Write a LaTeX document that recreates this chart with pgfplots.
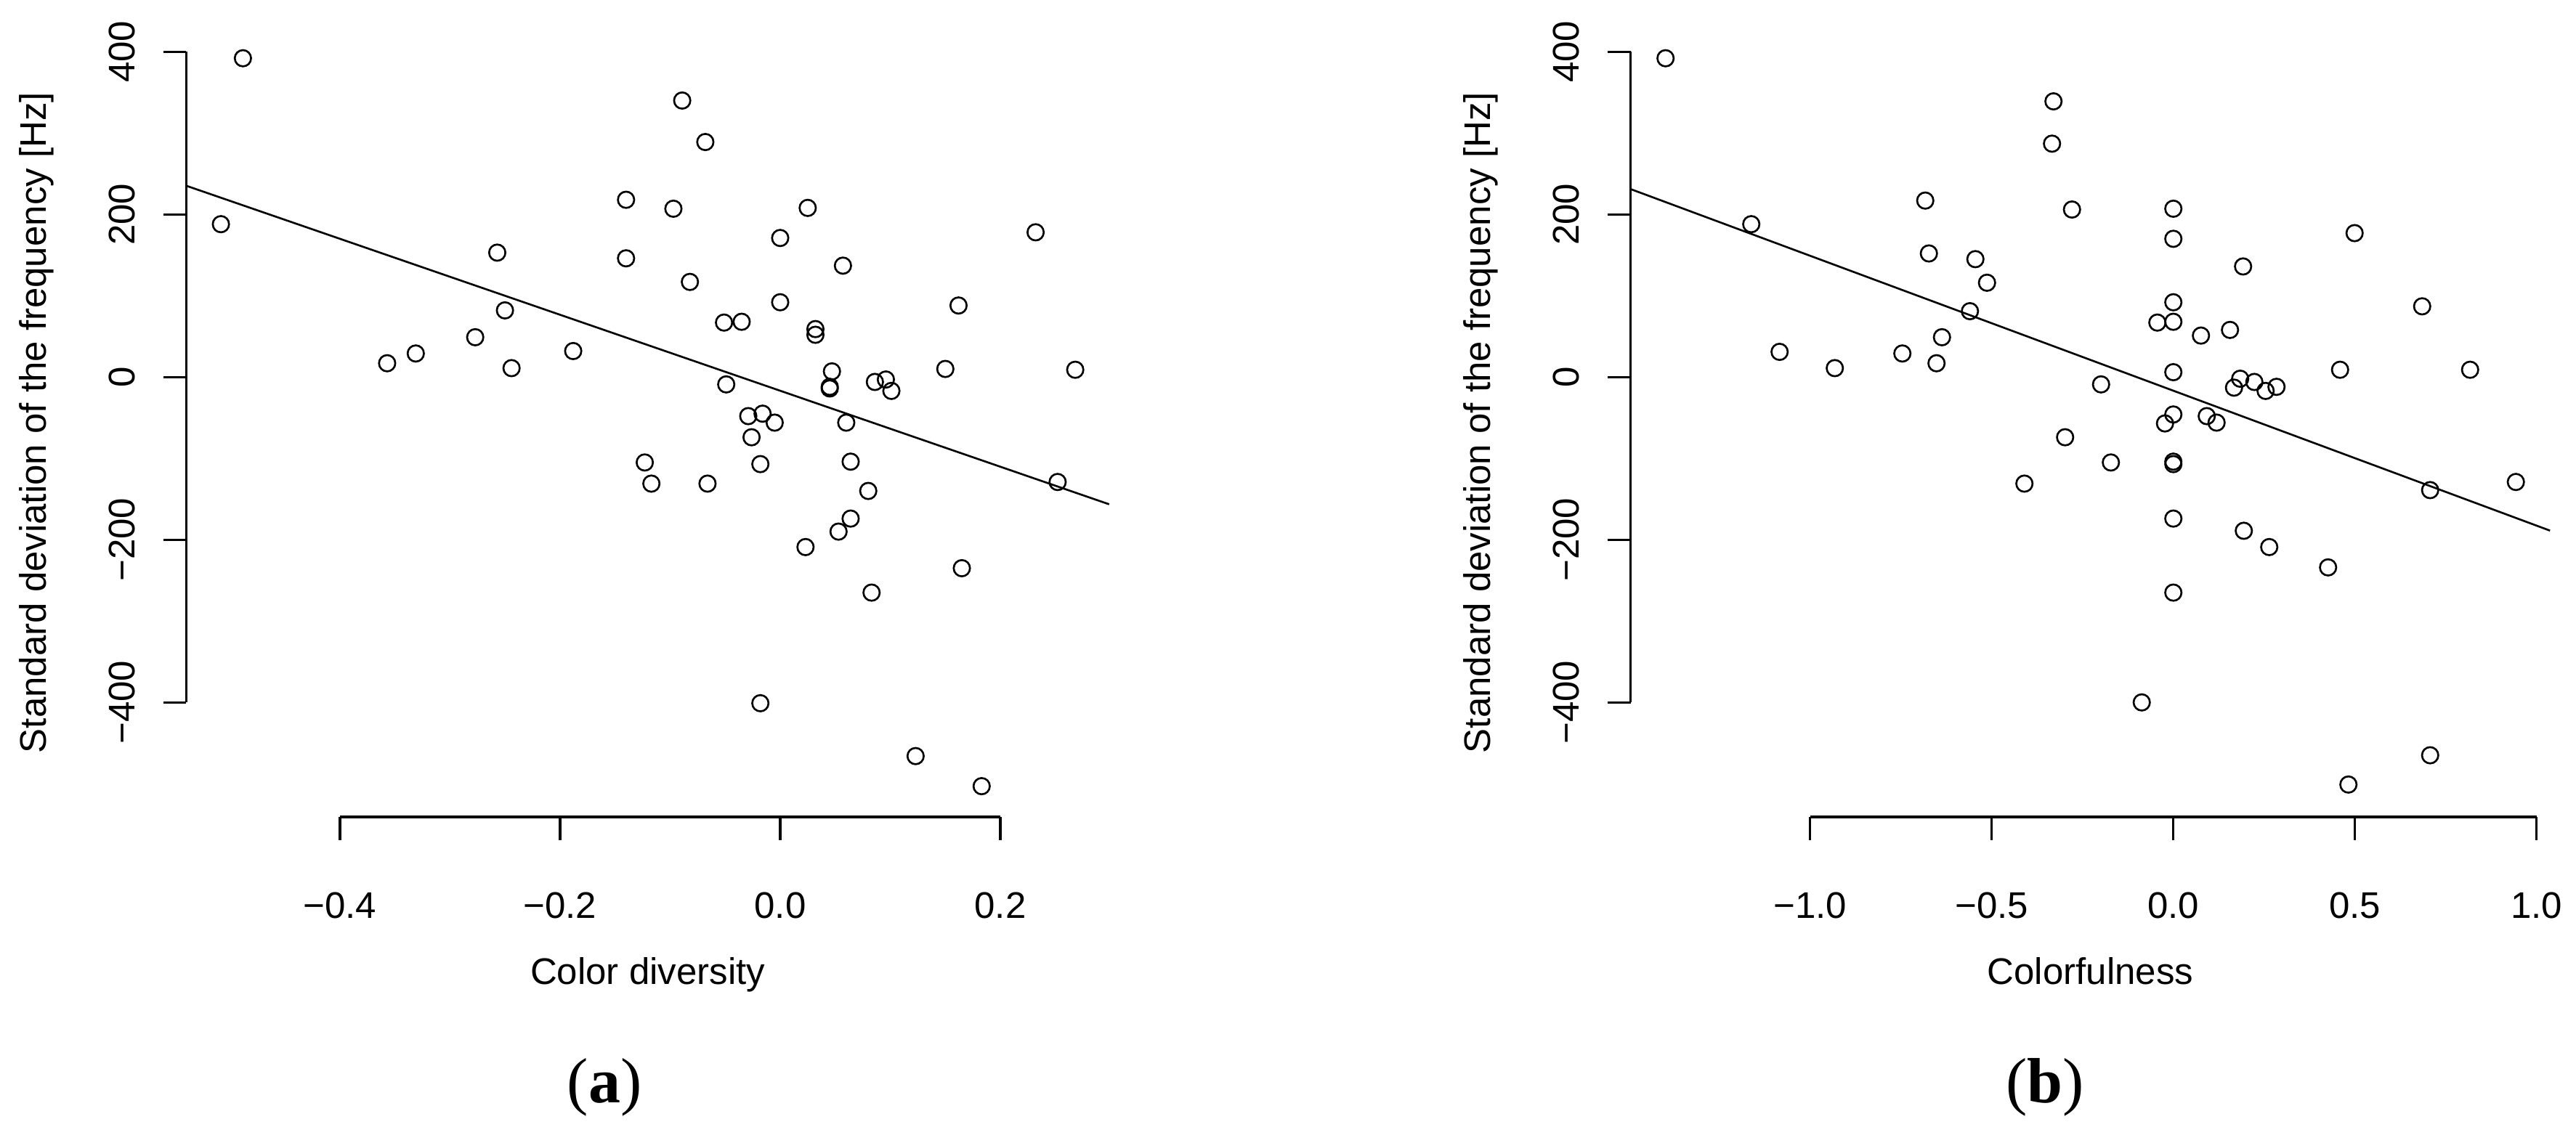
\documentclass[border=0pt]{standalone}
\usepackage{fontspec}
\setmainfont{Liberation Sans}
\newfontfamily\capfont{Liberation Serif}
\usepackage{pgfplots}
\pgfplotsset{compat=1.18}
\usetikzlibrary{calc}

\newcommand{\lab}{\fontsize{10.2}{12}\selectfont}

\pgfplotsset{
  rplot/.style={
    scale only axis, height=217.28pt,
    ymin=-541, ymax=429,
    axis x line*=bottom, axis y line*=left,
    axis line style={draw=none},
    tick align=outside, major tick length=6.3pt,
    every tick/.style={black, line width=0.7pt},
    ytick={-400,-200,0,200,400},
    yticklabels={−400,−200,0,200,400},
    tick label style={font=\lab},
    label style={font=\lab},
    xticklabel style={anchor=base}, xticklabel shift=21.6pt,
    yticklabel style={rotate=90, anchor=base}, yticklabel shift=8pt,
    xlabel style={at={($(axis description cs:0.5,0)+(0,-46pt)$)}, anchor=base},
    ylabel style={at={($(axis description cs:0,0.5)+(-38.7pt,0)$)}, rotate=0, anchor=base},
    ylabel={Standard deviation of the frequency [Hz]},
    clip=false,
  },
  pts/.style={only marks, mark=o, mark size=2.24pt, mark options={line width=0.53pt, black}},
  fit/.style={black, line width=0.53pt, no marks},
}

\begin{document}
\begin{tikzpicture}
\useasboundingbox (0,0) rectangle (709.2pt,312.6pt);

% (a) colour diversity
\begin{axis}[rplot, at={(51.3pt,87.56pt)}, anchor=south west,
  width=254.06pt, xmin=-0.5394, xmax=0.2988,
  xtick={-0.4,-0.2,0,0.2}, xticklabels={−0.4,−0.2,0.0,0.2},
  xlabel={Color diversity}]
\addplot[pts] coordinates {
  (-0.488,392) (-0.508,188) (-0.257,153) (-0.140,218) (-0.140,146)
  (-0.250,82) (-0.277,49) (-0.331,29) (-0.357,17) (-0.244,11)
  (-0.188,32) (-0.089,340) (-0.068,289) (-0.097,207) (0.025,208)
  (0.000,171) (0.057,137) (0.232,178) (-0.082,117) (0.000,92)
  (0.162,88) (-0.051,67) (-0.035,68) (0.032,59) (0.032,52)
  (0.150,10) (0.268,9) (-0.049,-9) (0.047,7) (0.045,-12)
  (0.045,-14) (0.086,-6) (0.096,-3) (0.101,-17) (-0.029,-48)
  (-0.016,-45) (-0.005,-56) (0.060,-56) (-0.026,-74) (-0.123,-105)
  (-0.117,-131) (-0.066,-131) (-0.018,-107) (0.064,-104) (0.080,-140)
  (0.252,-129) (0.064,-174) (0.053,-190) (0.023,-209) (0.165,-235)
  (0.083,-265) (-0.018,-401) (0.123,-466) (0.183,-503)
};
\addplot[fit] coordinates {(-0.5394,235.2) (0.2988,-156.4)};
\draw[line width=0.7pt] (axis cs:-0.5394,-400) -- (axis cs:-0.5394,400);
\draw[line width=0.7pt] (axis cs:-0.4,-541) -- (axis cs:0.2,-541);
\end{axis}

% (b) colourfulness
\begin{axis}[rplot, at={(448.94pt,87.56pt)}, anchor=south west,
  width=253.1pt, xmin=-1.494, xmax=1.037,
  xtick={-1,-0.5,0,0.5,1}, xticklabels={−1.0,−0.5,0.0,0.5,1.0},
  xlabel={Colorfulness}]
\addplot[pts] coordinates {
  (-1.398,392) (-1.162,188) (-0.683,217) (-0.673,152) (-0.545,145)
  (-0.513,116) (-0.560,81) (-0.637,49) (-1.084,31) (-0.746,29)
  (-0.932,11) (-0.652,17) (-0.330,339) (-0.334,287) (-0.279,206)
  (0.000,207) (0.000,170) (0.499,177) (0.192,136) (0.000,92)
  (0.685,87) (-0.044,67) (0.000,68) (0.076,51) (0.156,58)
  (-0.199,-9) (0.000,6) (0.459,9) (0.817,9) (0.184,-2)
  (0.167,-13) (0.223,-6) (0.254,-17) (0.284,-12) (0.000,-46)
  (-0.023,-57) (0.092,-48) (0.119,-56) (-0.298,-74) (-0.172,-105)
  (0.000,-104) (0.000,-107) (0.707,-139) (0.943,-129) (0.000,-174)
  (0.194,-189) (0.264,-209) (0.426,-234) (0.000,-265) (-0.087,-400)
  (0.707,-465) (0.482,-501) (-0.410,-131)
};
\addplot[fit] coordinates {(-1.494,231.1) (1.037,-188.8)};
\draw[line width=0.7pt] (axis cs:-1.494,-400) -- (axis cs:-1.494,400);
\draw[line width=0.7pt] (axis cs:-1,-541) -- (axis cs:1,-541);
\end{axis}

\node[font=\capfont\fontsize{17.6}{20}\selectfont, anchor=base] at (166.4pt,8.9pt) {(\textbf{a})};
\node[font=\capfont\fontsize{17.6}{20}\selectfont, anchor=base] at (563pt,8.9pt) {(\textbf{b})};
\end{tikzpicture}
\end{document}
